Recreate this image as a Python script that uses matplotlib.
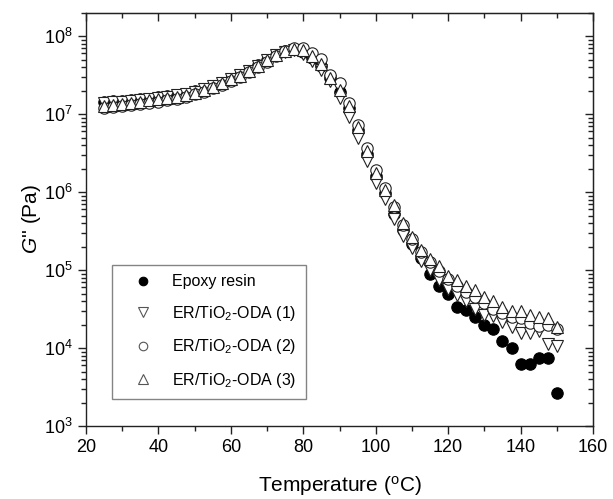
import numpy as np
import matplotlib
matplotlib.use("Agg")
import matplotlib.pyplot as plt
from matplotlib.ticker import MultipleLocator, LogLocator, NullFormatter

plt.rcParams['font.family'] = ['Liberation Sans', 'DejaVu Sans']
plt.rcParams['mathtext.fontset'] = 'custom'
plt.rcParams['mathtext.rm'] = 'Liberation Sans'
plt.rcParams['mathtext.it'] = 'Liberation Sans:italic'

# temperature sweep (degC)
temp = [25, 27.5, 30, 32.5, 35, 37.5, 40, 42.5, 45, 47.5,
        50, 52.5, 55, 57.5, 60, 62.5, 65, 67.5, 70, 72.5,
        75, 77.5, 80, 82.5, 85, 87.5, 90, 92.5, 95, 97.5,
        100, 102.5, 105, 107.5, 110, 112.5, 115, 117.5, 120, 122.5,
        125, 127.5, 130, 132.5, 135, 137.5, 140, 142.5, 145, 147.5, 150]

# loss modulus G'' (Pa)
g_epoxy = [1.45e7, 1.46e7, 1.48e7, 1.51e7, 1.55e7, 1.58e7, 1.64e7, 1.70e7, 1.76e7, 1.84e7,
           1.97e7, 2.11e7, 2.32e7, 2.54e7, 2.85e7, 3.20e7, 3.63e7, 4.22e7, 4.95e7, 5.75e7,
           6.46e7, 6.84e7, 6.31e7, 5.25e7, 4.17e7, 2.88e7, 1.95e7, 1.20e7, 6.31e6, 3.09e6,
           1.62e6, 9.77e5, 5.25e5, 3.24e5, 2.19e5, 1.41e5, 8.91e4, 6.31e4, 4.90e4, 3.39e4,
           3.09e4, 2.51e4, 1.95e4, 1.74e4, 1.23e4, 1.00e4, 6.31e3, 6.31e3, 7.41e3, 7.41e3, 2.63e3]

g_oda1 = [1.41e7, 1.43e7, 1.45e7, 1.48e7, 1.51e7, 1.57e7, 1.62e7, 1.68e7, 1.74e7, 1.82e7,
          1.95e7, 2.09e7, 2.29e7, 2.51e7, 2.82e7, 3.16e7, 3.59e7, 4.17e7, 4.90e7, 5.69e7,
          6.31e7, 6.61e7, 5.89e7, 4.79e7, 3.72e7, 2.63e7, 1.62e7, 9.12e6, 5.01e6, 2.51e6,
          1.32e6, 8.13e5, 4.57e5, 2.75e5, 1.91e5, 1.32e5, 1.00e5, 7.41e4, 5.75e4, 4.79e4,
          3.98e4, 3.16e4, 2.63e4, 2.57e4, 2.14e4, 1.86e4, 1.55e4, 1.55e4, 1.66e4, 1.12e4, 1.07e4]

g_oda2 = [1.20e7, 1.23e7, 1.26e7, 1.30e7, 1.35e7, 1.40e7, 1.45e7, 1.51e7, 1.58e7, 1.68e7,
          1.80e7, 1.95e7, 2.14e7, 2.37e7, 2.66e7, 3.02e7, 3.43e7, 3.98e7, 4.73e7, 5.62e7,
          6.46e7, 7.00e7, 7.08e7, 6.17e7, 5.13e7, 3.16e7, 2.51e7, 1.41e7, 7.24e6, 3.63e6,
          1.95e6, 1.12e6, 6.46e5, 3.80e5, 2.51e5, 1.70e5, 1.26e5, 9.77e4, 7.59e4, 6.31e4,
          5.25e4, 4.47e4, 3.80e4, 3.16e4, 2.82e4, 2.51e4, 2.40e4, 2.09e4, 1.91e4, 2.00e4, 1.78e4]

g_oda3 = [1.29e7, 1.32e7, 1.35e7, 1.40e7, 1.45e7, 1.50e7, 1.55e7, 1.60e7, 1.66e7, 1.76e7,
          1.88e7, 2.04e7, 2.24e7, 2.48e7, 2.79e7, 3.13e7, 3.55e7, 4.12e7, 4.90e7, 5.75e7,
          6.46e7, 6.92e7, 6.61e7, 5.50e7, 4.37e7, 2.95e7, 2.04e7, 1.26e7, 6.76e6, 3.39e6,
          1.74e6, 1.05e6, 6.76e5, 3.98e5, 2.69e5, 1.82e5, 1.38e5, 1.12e5, 8.32e4, 7.41e4,
          6.17e4, 5.50e4, 4.47e4, 4.07e4, 3.39e4, 3.02e4, 3.02e4, 2.63e4, 2.51e4, 2.40e4, 1.86e4]

labels = ['Epoxy resin', 'ER/TiO$_2$-ODA (1)', 'ER/TiO$_2$-ODA (2)', 'ER/TiO$_2$-ODA (3)']

fig = plt.figure(figsize=(6.13, 4.99), dpi=100)
ax = fig.add_axes([0.1403, 0.1463, 0.8271, 0.8282])

ms = 8.2
ax.plot(temp, g_epoxy, 'o', ms=ms, mfc='black', mec='black', mew=0.8, label=labels[0])
ax.plot(temp, g_oda1, 'v', ms=ms + 0.6, mfc='white', mec='#222222', mew=0.8, label=labels[1])
ax.plot(temp, g_oda2, 'o', ms=ms, mfc='white', mec='#222222', mew=0.8, label=labels[2])
ax.plot(temp, g_oda3, '^', ms=ms + 0.6, mfc='white', mec='#222222', mew=0.8, label=labels[3])

ax.set_yscale('log')
ax.set_xlim(20, 160)
ax.set_ylim(1e3, 2e8)
ax.xaxis.set_major_locator(MultipleLocator(20))
ax.xaxis.set_minor_locator(MultipleLocator(10))
ax.yaxis.set_major_locator(LogLocator(base=10, numticks=10))
ax.yaxis.set_minor_locator(LogLocator(base=10, subs=np.arange(2, 10), numticks=20))
ax.yaxis.set_minor_formatter(NullFormatter())

ax.tick_params(which='both', direction='out', labelsize=13, width=1.0, color='#222222')
ax.tick_params(which='major', length=6)
ax.tick_params(which='minor', length=3.5)
for sp in ax.spines.values():
    sp.set_linewidth(1.0)
    sp.set_color('#222222')

# mirrored axes with inward ticks
top = ax.secondary_xaxis('top')
top.xaxis.set_major_locator(MultipleLocator(20))
top.xaxis.set_minor_locator(MultipleLocator(10))
top.tick_params(which='both', direction='in', labeltop=False, width=1.0, color='#222222')
top.tick_params(which='major', length=6)
top.tick_params(which='minor', length=3.5)

right = ax.secondary_yaxis('right')
right.yaxis.set_major_locator(LogLocator(base=10, numticks=10))
right.yaxis.set_minor_locator(LogLocator(base=10, subs=np.arange(2, 10), numticks=20))
right.yaxis.set_minor_formatter(NullFormatter())
right.tick_params(which='both', direction='in', labelright=False, width=1.0, color='#222222')
right.tick_params(which='major', length=6)
right.tick_params(which='minor', length=3.5)

ax.set_xlabel('Temperature ($^{\\mathrm{o}}$C)', fontsize=15, labelpad=13)
ax.set_ylabel("$G$'' (Pa)", fontsize=15, labelpad=1)

leg = ax.legend(loc='lower left', bbox_to_anchor=(0.051, 0.065), borderaxespad=0,
                fontsize=11.5, frameon=True, fancybox=False, edgecolor='#666666',
                markerscale=0.75, handletextpad=0.5, labelspacing=0.9,
                borderpad=0.6, handlelength=2.65)
leg.get_frame().set_linewidth(1.0)
for h in leg.legend_handles:
    if h.get_markerfacecolor() == 'white':
        h.set_markeredgecolor('#555555')

fig.savefig('out.png', dpi=100)
